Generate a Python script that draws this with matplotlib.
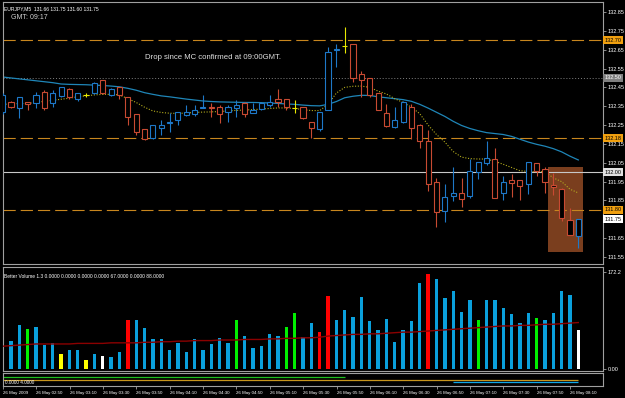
import matplotlib
matplotlib.use("Agg")
from matplotlib import pyplot as plt
from matplotlib.patches import Rectangle
from matplotlib import transforms

plt.rcParams['font.family'] = ['Liberation Sans', 'DejaVu Sans']

W, H = 625, 398

# ---- chart data (EURJPY M5) ----
opens = [132.32, 132.374, 132.34, 132.37, 132.365, 132.427, 132.365, 132.406, 132.44, 132.386,
         132.41, 132.418, 132.489, 132.409, 132.45, 132.397, 132.309, 132.227, 132.18, 132.236,
         132.262, 132.277, 132.303, 132.309, 132.339, 132.347, 132.347, 132.317, 132.339, 132.369,
         132.316, 132.333, 132.356, 132.386, 132.386, 132.339, 132.344, 132.265, 132.228, 132.33,
         132.647, 132.67, 132.68, 132.52, 132.498, 132.418, 132.316, 132.238, 132.265, 132.344,
         132.25, 132.167, 131.946, 131.796, 131.876, 131.888, 131.874, 132.0, 132.047, 132.068,
         131.888, 131.959, 131.959, 131.936, 132.047, 132.015, 131.93, 131.909, 131.747, 131.66]
highs = [132.42, 132.38, 132.40, 132.375, 132.427, 132.436, 132.436, 132.452, 132.445, 132.42,
         132.42, 132.476, 132.49, 132.445, 132.452, 132.40, 132.31, 132.23, 132.25, 132.277,
         132.312, 132.322, 132.356, 132.356, 132.409, 132.365, 132.356, 132.356, 132.383, 132.37,
         132.369, 132.37, 132.409, 132.44, 132.388, 132.383, 132.345, 132.268, 132.32, 132.664,
         132.68, 132.769, 132.682, 132.536, 132.50, 132.42, 132.36, 132.345, 132.38, 132.36,
         132.255, 132.226, 131.97, 131.94, 132.025, 131.97, 132.07, 132.056, 132.165, 132.127,
         131.98, 131.99, 131.96, 132.056, 132.05, 132.025, 131.995, 131.915, 131.81, 131.75]
lows = [132.31, 132.34, 132.29, 132.33, 132.339, 132.33, 132.347, 132.40, 132.39, 132.38,
        132.40, 132.415, 132.415, 132.405, 132.386, 132.25, 132.197, 132.17, 132.175, 132.197,
        132.215, 132.25, 132.298, 132.298, 132.339, 132.294, 132.259, 132.268, 132.294, 132.294,
        132.312, 132.33, 132.347, 132.347, 132.33, 132.316, 132.28, 132.18, 132.22, 132.33,
        132.56, 132.63, 132.48, 132.40, 132.40, 132.33, 132.24, 132.236, 132.26, 132.175,
        132.127, 131.90, 131.707, 131.735, 131.845, 131.815, 131.865, 131.965, 132.04, 131.865,
        131.85, 131.87, 131.85, 131.885, 131.98, 131.89, 131.88, 131.74, 131.667, 131.60]
closes = [132.41, 132.347, 132.40, 132.36, 132.41, 132.339, 132.418, 132.45, 132.397, 132.418,
          132.41, 132.475, 132.418, 132.44, 132.409, 132.294, 132.215, 132.174, 132.25, 132.25,
          132.267, 132.321, 132.321, 132.33, 132.347, 132.339, 132.309, 132.347, 132.356, 132.309,
          132.33, 132.369, 132.374, 132.374, 132.347, 132.339, 132.286, 132.236, 132.318, 132.636,
          132.656, 132.67, 132.498, 132.488, 132.41, 132.33, 132.245, 132.277, 132.374, 132.236,
          132.167, 131.936, 131.787, 131.867, 131.89, 131.856, 132.007, 132.056, 132.077, 131.865,
          131.946, 131.945, 131.927, 132.056, 132.007, 131.946, 131.92, 131.755, 131.667, 131.75]

ma_slow = [132.505, 132.500, 132.495, 132.490, 132.485, 132.480, 132.475, 132.468, 132.466, 132.465,
           132.464, 132.462, 132.460, 132.457, 132.453, 132.445, 132.435, 132.422, 132.413, 132.405,
           132.400, 132.394, 132.388, 132.383, 132.378, 132.375, 132.373, 132.372, 132.371, 132.370,
           132.370, 132.369, 132.367, 132.365, 132.362, 132.360, 132.356, 132.353, 132.352, 132.360,
           132.375, 132.395, 132.403, 132.408, 132.407, 132.400, 132.395, 132.390, 132.385, 132.376,
           132.360, 132.340, 132.318, 132.296, 132.270, 132.248, 132.232, 132.220, 132.210, 132.205,
           132.200, 132.190, 132.175, 132.160, 132.148, 132.138, 132.125, 132.108, 132.085, 132.065]
ma_fast = [132.360, 132.362, 132.364, 132.365, 132.370, 132.376, 132.382, 132.387, 132.393, 132.400,
           132.405, 132.410, 132.413, 132.413, 132.410, 132.390, 132.370, 132.345, 132.325, 132.317,
           132.313, 132.312, 132.314, 132.317, 132.319, 132.320, 132.322, 132.325, 132.328, 132.330,
           132.332, 132.335, 132.338, 132.341, 132.341, 132.338, 132.332, 132.327, 132.327, 132.360,
           132.420, 132.450, 132.456, 132.457, 132.450, 132.430, 132.415, 132.390, 132.370, 132.345,
           132.310, 132.250, 132.200, 132.160, 132.110, 132.080, 132.072, 132.070, 132.070, 132.058,
           132.042, 132.025, 132.008, 132.004, 132.003, 132.003, 131.970, 131.950, 131.910, 131.890]

volumes = [50, 50, 78, 72, 75, 43, 46, 28, 34, 34,
           17, 28, 24, 22, 31, 88, 88, 73, 54, 54,
           34, 46, 31, 54, 34, 45, 56, 46, 87, 59,
           38, 41, 62, 59, 75, 100, 58, 82, 66, 131,
           88, 105, 93, 128, 86, 70, 89, 49, 69, 85,
           153, 169, 161, 126, 139, 101, 123, 88, 123, 123,
           109, 98, 83, 100, 91, 88, 100, 139, 132, 70]
vol_kind = "bbbgbbbybbybwbbrbbbbbbbbbbbbgbbbbbggbbrrbbbbbbbbbbbrbbbbbgbbbbbbgbbbbw"
vol_ma = [41, 42, 43, 44, 45, 45, 45, 45, 45, 46,
          46, 46, 46, 47, 47, 47, 47, 48, 48, 49,
          49, 50, 50, 51, 51, 51, 52, 52, 52, 53,
          53, 53, 54, 54, 55, 55, 56, 56, 57, 59,
          60, 61, 62, 62, 63, 63, 64, 65, 66, 66,
          67, 68, 69, 70, 71, 72, 73, 74, 75, 76,
          77, 77, 78, 78, 79, 80, 80, 81, 82, 83]

time_labels = ["26 May 2009", "26 May 02:50", "26 May 03:10", "26 May 03:30", "26 May 03:50",
               "26 May 04:10", "26 May 04:30", "26 May 04:50", "26 May 05:10", "26 May 05:30",
               "26 May 05:50", "26 May 06:10", "26 May 06:30", "26 May 06:50", "26 May 07:10",
               "26 May 07:30", "26 May 07:50", "26 May 08:10"]
price_ticks = [132.85, 132.75, 132.65, 132.55, 132.45, 132.35, 132.25, 132.15,
               132.05, 131.95, 131.85, 131.65, 131.55]
orange_levels = [132.70, 132.18, 131.80]
dotted_level = 132.50
white_level = 132.00
bid_price = 131.75
zone_bars = (65.4, 69.6)
zone_prices = (131.577, 132.028)
# third pane indicator lines: (first bar, last bar)
ind_green = (0, 41)
ind_orange = (0, 69)
ind_blue = (54, 69)

n = len(closes)
BULL, BEAR, DOJI = '#1E78C8', '#C84A32', '#E8E800'
ORANGE = '#C8861E'
vol_colors = {'b': '#0AA0DC', 'g': '#00F000', 'r': '#FF0000', 'y': '#FFFF00', 'w': '#FFFFFF'}


def box(x0, y0, x1, y1):
    return [x0 / W, 1 - y1 / H, (x1 - x0) / W, (y1 - y0) / H]


def style(ax):
    ax.set_facecolor('black')
    for s in ax.spines.values():
        s.set_color('#A0A0A0')
        s.set_linewidth(0.8)


fig = plt.figure(figsize=(W / 100, H / 100), dpi=100, facecolor='black')
xlim = (0.036, 71.96)

# ---------- main price pane ----------
ax = fig.add_axes(box(3, 2, 603, 264))
style(ax)
ax.set_xlim(*xlim)
ax.set_ylim(131.513, 132.903)

ax.add_patch(Rectangle((zone_bars[0], zone_prices[0]), zone_bars[1] - zone_bars[0],
                       zone_prices[1] - zone_prices[0], facecolor='#7A3E1E', edgecolor='none', zorder=0.5))
for lv in orange_levels:
    ax.axhline(lv, color=ORANGE, lw=0.8, ls=(0, (11, 4.5)), zorder=1)
ax.axhline(dotted_level, color='#808080', lw=0.7, ls=(0, (1, 2)), zorder=1)
ax.axhline(white_level, color='#C8C8C8', lw=0.8, zorder=1)

ax.plot(range(n), ma_slow, color='#1F86B8', lw=0.9, zorder=2)
ax.plot(range(n), ma_fast, color='#B4AC1E', lw=0.8, ls=(0, (1, 1.5)), zorder=2)

for i in range(n):
    o, h, l, c = opens[i], highs[i], lows[i], closes[i]
    col = BULL if c > o else BEAR if c < o else DOJI
    ax.vlines(i, l, h, color=col, lw=0.8, zorder=3)
    if c == o:
        ax.hlines(o, i - 0.33, i + 0.33, color=col, lw=0.8, zorder=4)
    else:
        ax.add_patch(Rectangle((i - 0.31, min(o, c)), 0.62, abs(c - o), facecolor='black',
                               edgecolor=col, lw=0.8, zorder=4))

ax.set_xticks([])
ax.yaxis.tick_right()
ax.set_yticks(price_ticks)
ax.set_yticklabels([f"{p:.2f}" for p in price_ticks])
ax.tick_params(axis='y', colors='#A0A0A0', labelcolor='white', length=2.2, width=0.6,
               labelsize=4, pad=1.2)

tr = transforms.blended_transform_factory(ax.transAxes, ax.transData)
for p, fc, tc in [(orange_levels[0], '#F0A010', 'black'), (dotted_level, '#808080', 'white'),
                  (orange_levels[1], '#F0A010', 'black'), (white_level, '#E0E0E0', 'black'),
                  (orange_levels[2], '#F0A010', 'black'), (bid_price, '#FFFFFF', 'black')]:
    ax.text(1.003, p, f"{p:.2f}", transform=tr, fontsize=4, color=tc, va='center', ha='left',
            clip_on=False, bbox=dict(boxstyle='square,pad=0.25', fc=fc, ec='none'))

ax.text(0.002, 0.985, "EURJPY,M5  131.66 131.75 131.60 131.75", transform=ax.transAxes,
        fontsize=3.6, color='white', va='top', ha='left')
ax.text(0.013, 0.955, "GMT: 09:17", transform=ax.transAxes, fontsize=5, color='#D0D0D0',
        va='top', ha='left')
ax.text(17.05, 132.606, "Drop since MC confirmed at 09:00GMT.", fontsize=5.6, color='#E0E0E0',
        va='center', ha='left')

# ---------- Better Volume pane ----------
av = fig.add_axes(box(3, 267, 603, 371))
style(av)
av.set_xlim(*xlim)
av.set_ylim(-3.0, 181.6)
av.bar(range(n), volumes, width=0.4, color=[vol_colors[k] for k in vol_kind], zorder=2)
av.plot(range(n), vol_ma, color='#8B0000', lw=1.0, zorder=3)
av.set_xticks([])
av.yaxis.tick_right()
av.set_yticks([0, 172.2])
av.set_yticklabels(["0.00", "172.2"])
av.tick_params(axis='y', colors='#A0A0A0', labelcolor='white', length=2.2, width=0.6,
               labelsize=4, pad=1.2)
av.text(0.002, 0.93, "Better Volume 1.3 0.0000 0.0000 0.0000 0.0000 67.0000 0.0000 88.0000",
        transform=av.transAxes, fontsize=3.5, color='white', va='top', ha='left')

# ---------- bottom indicator pane ----------
ab = fig.add_axes(box(3, 373, 603, 386))
style(ab)
ab.set_xlim(*xlim)
ab.set_ylim(0, 13)
ab.hlines(9, ind_green[0] - 0.5, ind_green[1], color='#20C020', lw=0.9)
ab.hlines(6.3, ind_orange[0] - 0.5, ind_orange[1], color='#C8961E', lw=0.9)
ab.hlines(4, ind_blue[0], ind_blue[1], color='#10A8E8', lw=0.9)
ab.text(0.004, 0.3, "0.0000 4.0000", transform=ab.transAxes, fontsize=3.4, color='white',
        va='center', ha='left')
ab.set_yticks([])
ab.set_xticks([4 * k for k in range(len(time_labels))])
ab.set_xticklabels(time_labels, ha='left')
ab.tick_params(axis='x', colors='#A0A0A0', labelcolor='white', length=2.5, width=0.6,
               labelsize=3.2, pad=1.0)

fig.savefig("out.png", dpi=100, facecolor='black')
